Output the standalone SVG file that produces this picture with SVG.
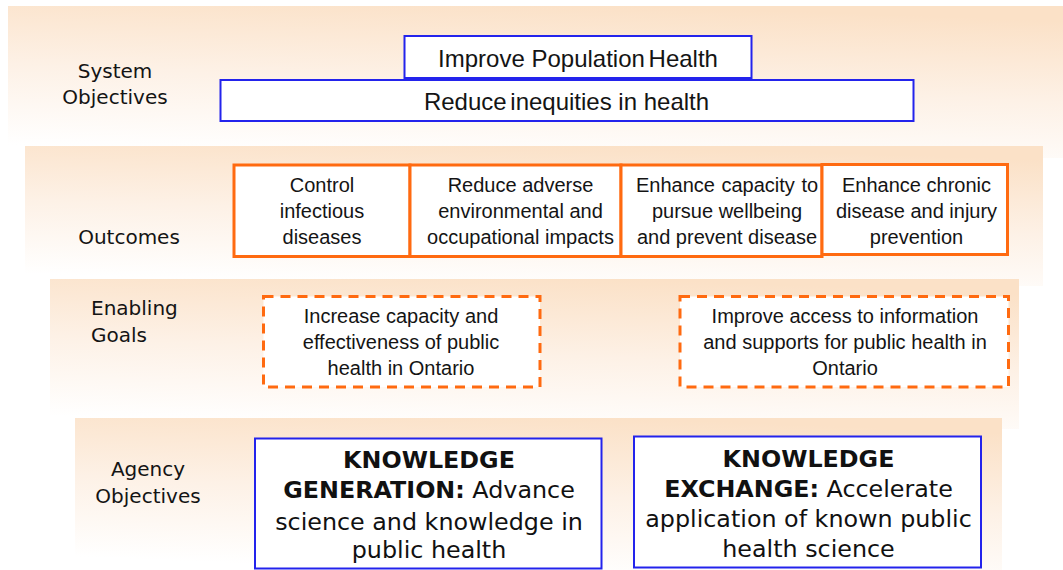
<svg xmlns="http://www.w3.org/2000/svg" width="1063" height="570" viewBox="0 0 1063 570">
<style>
.lbl{font-family:"DejaVu Sans",Verdana,sans-serif;font-size:20px;fill:#141414}
.txt{font-family:"Liberation Sans",Arial,sans-serif;font-size:20px;fill:#141414;text-anchor:middle}
.big{font-family:"Liberation Sans",Arial,sans-serif;font-size:24px;fill:#141414;text-anchor:middle}
.kn{font-family:"DejaVu Sans",Verdana,sans-serif;font-size:23.8px;fill:#111;text-anchor:middle}
.kn .b{font-weight:bold}
.blue{fill:#fff;stroke:#2323EC;stroke-width:2}
.out{fill:#fff;stroke:#FF6A10;stroke-width:3}
.dash{fill:#fff;stroke:#FF6A10;stroke-width:3;stroke-dasharray:10 7}
</style>
<defs>
<linearGradient id="band" x1="0.6" y1="0" x2="0.35" y2="1">
<stop offset="0" stop-color="#FBE1C7"/>
<stop offset="0.5" stop-color="#FDF1E6"/>
<stop offset="1" stop-color="#FFFFFF"/>
</linearGradient>
</defs>
<rect width="1063" height="570" fill="#fff"/>
<g id="bands">
<rect x="8" y="6" width="1055" height="152" fill="url(#band)"/>
<rect x="25" y="146" width="1018" height="140" fill="url(#band)"/>
<rect x="50" y="279" width="969" height="150" fill="url(#band)"/>
<rect x="75" y="418" width="927" height="152" fill="url(#band)"/>
</g>
<g id="labels">
<text class="lbl" x="115" y="78" text-anchor="middle">System</text>
<text class="lbl" x="115" y="104" text-anchor="middle">Objectives</text>
<text class="lbl" x="129" y="244" text-anchor="middle">Outcomes</text>
<text class="lbl" x="91" y="315">Enabling</text>
<text class="lbl" x="91" y="342">Goals</text>
<text class="lbl" x="148" y="476" text-anchor="middle">Agency</text>
<text class="lbl" x="148" y="503" text-anchor="middle">Objectives</text>
</g>
<g id="connectors"></g>
<g id="improve">
<rect class="blue" x="404.5" y="36" width="347" height="42"/>
<text class="big" x="578" y="66.5">Improve Population<tspan dx="-3"> Health</tspan></text>
</g>
<g id="reduce">
<rect class="blue" x="220.5" y="80" width="693" height="41"/>
<text class="big" x="566.5" y="110">Reduce<tspan dx="-3"> inequities</tspan> in health</text>
</g>
<g id="out1">
<rect class="out" x="234" y="165" width="176" height="91.5"/>
<text class="txt" x="322" y="192">Control</text>
<text class="txt" x="322" y="218">infectious</text>
<text class="txt" x="322" y="244">diseases</text>
</g>
<g id="out2">
<rect class="out" x="410" y="165" width="211" height="91.5"/>
<text class="txt" x="520.5" y="192">Reduce adverse</text>
<text class="txt" x="520.5" y="218">environmental and</text>
<text class="txt" x="520.5" y="244">occupational impacts</text>
</g>
<g id="out3">
<rect class="out" x="621" y="165" width="201" height="91.5"/>
<text class="txt" x="727" y="192" word-spacing="1">Enhance capacity to</text>
<text class="txt" x="727" y="218">pursue wellbeing</text>
<text class="txt" x="727" y="244">and prevent disease</text>
</g>
<g id="out4">
<rect class="out" x="822" y="164.5" width="185.5" height="90"/>
<text class="txt" x="916.5" y="192">Enhance chronic</text>
<text class="txt" x="916.5" y="218">disease and injury</text>
<text class="txt" x="916.5" y="244">prevention</text>
</g>
<g id="goal1">
<rect class="dash" x="263.5" y="296.5" width="276.5" height="90.5"/>
<text class="txt" x="401" y="323">Increase capacity and</text>
<text class="txt" x="401" y="349">effectiveness of public</text>
<text class="txt" x="401" y="375">health in Ontario</text>
</g>
<g id="goal2">
<rect class="dash" x="680" y="296.5" width="328.5" height="90.5"/>
<text class="txt" x="845" y="323">Improve access to information</text>
<text class="txt" x="845" y="349">and supports for public health in</text>
<text class="txt" x="845" y="375">Ontario</text>
</g>
<g id="kgen">
<rect class="blue" x="255" y="438.5" width="346.5" height="130"/>
<text class="kn" x="429" y="467.5"><tspan class="b">KNOWLEDGE</tspan></text>
<text class="kn" x="429" y="498"><tspan class="b">GENERATION:</tspan>  Advance</text>
<text class="kn" x="429" y="529.5">science and knowledge in</text>
<text class="kn" x="429" y="558">public health</text>
</g>
<g id="kexc">
<rect class="blue" x="634" y="436.5" width="347" height="131"/>
<text class="kn" x="808.5" y="466.5"><tspan class="b">KNOWLEDGE</tspan></text>
<text class="kn" x="808.5" y="496.5"><tspan class="b">EXCHANGE:</tspan> Accelerate</text>
<text class="kn" x="808.5" y="526.5">application of known public</text>
<text class="kn" x="808.5" y="556.5">health science</text>
</g>
</svg>
